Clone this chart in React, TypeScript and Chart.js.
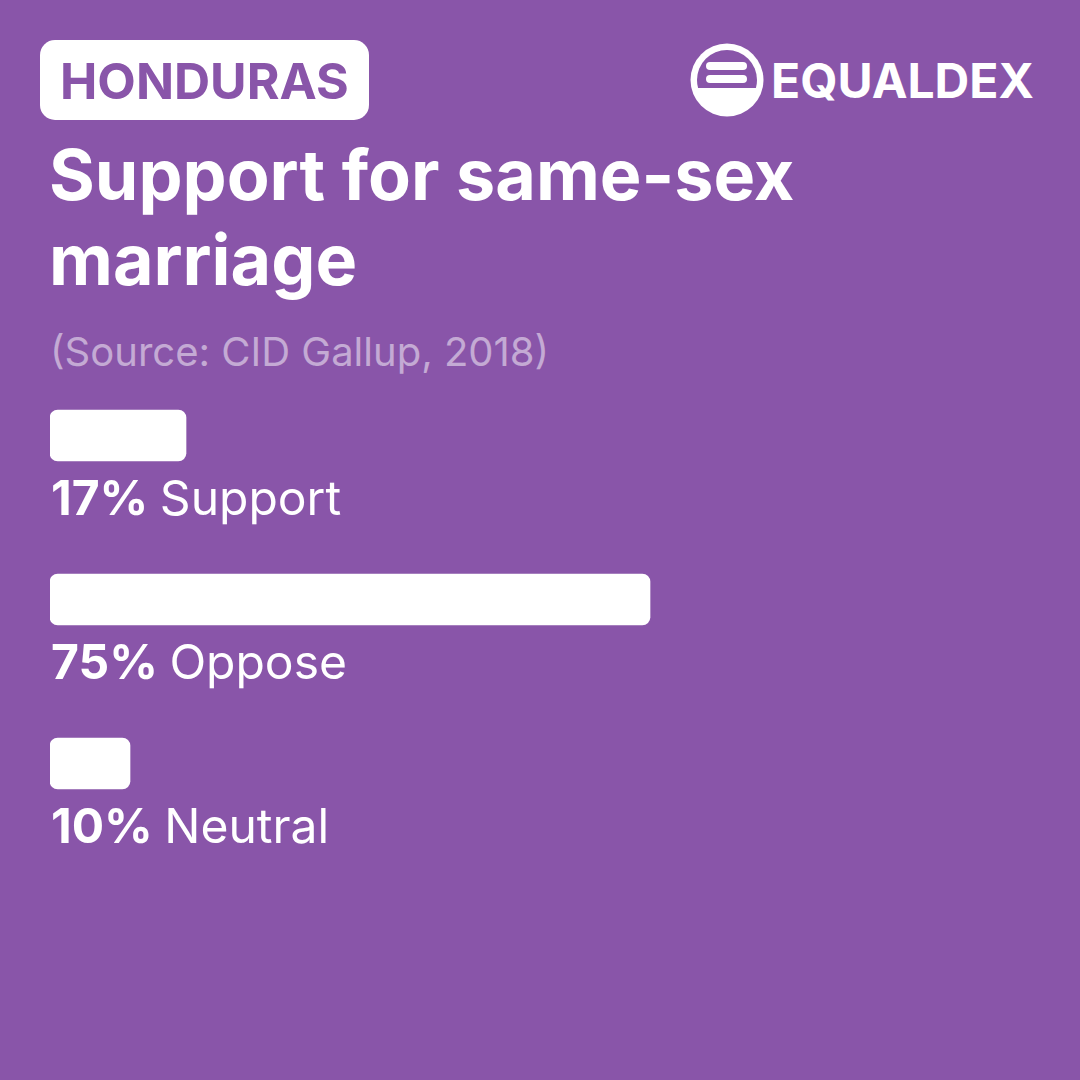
import React, { useEffect, useRef } from "react";
import { Chart, registerables } from "chart.js";

Chart.register(...registerables);

const categories = ["Support", "Oppose", "Neutral"];
const values = [17, 75, 10];
const country = "HONDURAS";
const title = "Support for same-sex marriage";
const source = "(Source: CID Gallup, 2018)";

const PURPLE = "#8955a9";
const FONT = "Inter, 'Noto Sans', sans-serif";

const labelPlugin = {
  id: "barLabels",
  afterDatasetsDraw(chart: any) {
    const ctx = chart.ctx;
    const meta = chart.getDatasetMeta(0);
    ctx.save();
    ctx.fillStyle = "#ffffff";
    ctx.textBaseline = "alphabetic";
    ctx.textAlign = "left";
    meta.data.forEach((bar: any, i: number) => {
      const x = chart.chartArea.left + 1;
      const y = bar.y + 79.5;
      const pct = values[i] + "%";
      ctx.font = `700 48px ${FONT}`;
      ctx.fillText(pct, x, y);
      const w = ctx.measureText(pct).width;
      ctx.font = `400 48px ${FONT}`;
      ctx.fillText(" " + categories[i], x + w - 2, y);
    });
    ctx.restore();
  },
};

function Logo() {
  return (
    <svg width="74" height="74" viewBox="0 0 74 74" style={{ position: "absolute", left: 690, top: 43 }}>
      <defs>
        <clipPath id="topclip">
          <rect x="0" y="0" width="74" height="45" />
        </clipPath>
      </defs>
      <circle cx="37" cy="37" r="36.5" fill="#fff" />
      <circle cx="37" cy="37" r="30" fill={PURPLE} clipPath="url(#topclip)" />
      <rect x="16" y="19" width="41" height="8" rx="4" fill="#fff" />
      <rect x="16" y="32" width="41" height="8" rx="4" fill="#fff" />
    </svg>
  );
}

export default function App() {
  const ref = useRef<HTMLCanvasElement>(null);

  useEffect(() => {
    document.body.style.margin = "0";
    const chart = new Chart(ref.current!, {
      type: "bar",
      data: {
        labels: categories,
        datasets: [
          {
            data: values,
            backgroundColor: "#ffffff",
            borderRadius: 8,
            borderSkipped: false,
            barThickness: 51,
          },
        ],
      },
      options: {
        indexAxis: "y",
        animation: false,
        responsive: false,
        devicePixelRatio: 1,
        layout: { padding: { left: 50, right: 230, top: 13.5, bottom: 14.5 } },
        scales: {
          x: { display: false, min: 0, max: 100 },
          y: { display: false },
        },
        plugins: {
          legend: { display: false },
          tooltip: { enabled: false },
        },
      },
      plugins: [labelPlugin],
    });
    return () => chart.destroy();
  }, []);

  return (
    <div
      style={{
        position: "absolute",
        left: 0,
        top: 0,
        width: 1080,
        height: 1080,
        background: PURPLE,
        fontFamily: FONT,
        overflow: "hidden",
      }}
    >
      <div
        style={{
          position: "absolute",
          left: 40,
          top: 40,
          width: 329,
          height: 80,
          borderRadius: 15,
          background: "#fff",
          color: PURPLE,
          fontWeight: 700,
          fontSize: 50,
          lineHeight: "82px",
          paddingLeft: 20,
          boxSizing: "border-box",
          whiteSpace: "nowrap",
        }}
      >
        {country}
      </div>
      <Logo />
      <div
        style={{
          position: "absolute",
          left: 771,
          top: 40,
          color: "#fff",
          fontWeight: 700,
          fontSize: 48,
          lineHeight: "81px",
          whiteSpace: "nowrap",
        }}
      >
        EQUALDEX
      </div>
      <div
        style={{
          position: "absolute",
          left: 49,
          top: 132,
          width: 800,
          color: "#fff",
          fontWeight: 700,
          fontSize: 70,
          lineHeight: "85px",
        }}
      >
        {title}
      </div>
      <div
        style={{
          position: "absolute",
          left: 50,
          top: 327.5,
          color: "rgba(255,255,255,0.5)",
          fontWeight: 400,
          fontSize: 40,
          lineHeight: "48px",
          whiteSpace: "nowrap",
        }}
      >
        {source}
      </div>
      <canvas
        ref={ref}
        width={1080}
        height={520}
        style={{ position: "absolute", left: 0, top: 340, width: 1080, height: 520 }}
      />
    </div>
  );
}
